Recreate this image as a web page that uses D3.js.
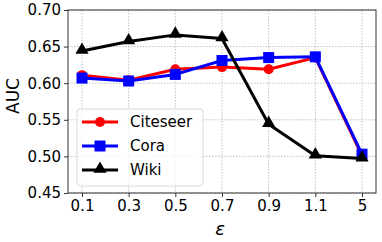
<!DOCTYPE html>
<html>
<head>
<meta charset="utf-8">
<script src="https://cdn.jsdelivr.net/npm/d3@7"></script>
<style>
body { margin: 0; background: #fff; }
text { font-family: "DejaVu Sans", sans-serif; }
</style>
</head>
<body>
<svg id="chart" width="382" height="242"></svg>
<script>
// eps values along the x axis
var eps = ["0.1", "0.3", "0.5", "0.7", "0.9", "1.1", "5"];
var citeseer = [0.611, 0.604, 0.619, 0.622, 0.619, 0.635, 0.501];
var cora = [0.607, 0.603, 0.612, 0.631, 0.635, 0.636, 0.503];
var wiki = [0.644, 0.657, 0.666, 0.661, 0.544, 0.501, 0.497];
var yTicks = [0.45, 0.50, 0.55, 0.60, 0.65, 0.70];

var series = [
    {name: "Citeseer", vals: citeseer, color: "#ff0000", mark: "circle"},
    {name: "Cora", vals: cora, color: "#0000ff", mark: "square"},
    {name: "Wiki", vals: wiki, color: "#000000", mark: "triangle"}
];

var svg = d3.select("#chart");
var L = 68, R = 376, T = 10, B = 193;

var x = d3.scalePoint().domain(eps).range([L, R]).padding(0.3);
var y = d3.scaleLinear().domain([0.45, 0.70]).range([B, T]);

// grid
var grid = svg.append("g");
grid.selectAll(".gx").data(eps).enter().append("line")
    .attr("x1", function(d){ return x(d); }).attr("x2", function(d){ return x(d); })
    .attr("y1", T).attr("y2", B)
    .attr("stroke", "#b0b0b0").attr("stroke-width", 0.8).attr("stroke-dasharray", "1.5,1.5");
grid.selectAll(".gy").data(yTicks).enter().append("line")
    .attr("x1", L).attr("x2", R)
    .attr("y1", function(d){ return y(d); }).attr("y2", function(d){ return y(d); })
    .attr("stroke", "#b0b0b0").attr("stroke-width", 0.8).attr("stroke-dasharray", "1.5,1.5");

// axes
var xAxis = svg.append("g").attr("transform", "translate(0," + B + ")")
    .call(d3.axisBottom(x).tickSize(4).tickPadding(3));
var yAxis = svg.append("g").attr("transform", "translate(" + L + ",0)")
    .call(d3.axisLeft(y).tickValues(yTicks).tickFormat(d3.format(".2f")).tickSize(4).tickPadding(3));
[xAxis, yAxis].forEach(function(a){
    a.select(".domain").remove();
    a.selectAll("line").attr("stroke", "#333");
    a.selectAll("text").attr("font-size", 15).attr("fill", "#000")
        .style("font-family", "DejaVu Sans, sans-serif");
});
xAxis.selectAll("text").attr("dy", "0.75em");

// frame
svg.append("rect").attr("x", L).attr("y", T).attr("width", R - L).attr("height", B - T)
    .attr("fill", "none").attr("stroke", "#333").attr("stroke-width", 1);

var line = d3.line()
    .x(function(d, i){ return x(eps[i]); })
    .y(function(d){ return y(d); });

function marker(g, kind, color, cx, cy) {
    if (kind == "circle") {
        g.append("circle").attr("cx", cx).attr("cy", cy).attr("r", 5).attr("fill", color);
    } else if (kind == "square") {
        g.append("rect").attr("x", cx - 5.5).attr("y", cy - 5.5).attr("width", 11).attr("height", 11).attr("fill", color);
    } else {
        g.append("path").attr("d", d3.symbol().type(d3.symbolTriangle).size(75)())
            .attr("transform", "translate(" + cx + "," + (cy - 1) + ")").attr("fill", color);
    }
}

series.forEach(function(s){
    var g = svg.append("g");
    g.append("path").datum(s.vals).attr("d", line)
        .attr("fill", "none").attr("stroke", s.color).attr("stroke-width", 3)
        .attr("stroke-linejoin", "round");
    s.vals.forEach(function(v, i){ marker(g, s.mark, s.color, x(eps[i]), y(v)); });
});

// legend
var leg = svg.append("g");
leg.append("rect").attr("x", 77).attr("y", 109).attr("width", 126).attr("height", 77)
    .attr("rx", 3).attr("fill", "#fff").attr("fill-opacity", 0.8)
    .attr("stroke", "#d9d9d9").attr("stroke-width", 1);
series.forEach(function(s, i){
    var ly = 122 + i * 24;
    leg.append("line").attr("x1", 82).attr("x2", 118).attr("y1", ly).attr("y2", ly)
        .attr("stroke", s.color).attr("stroke-width", 3);
    marker(leg, s.mark, s.color, 100, ly);
    leg.append("text").attr("x", 130).attr("y", ly).attr("dy", "0.35em")
        .attr("font-size", 15).text(s.name);
});

// labels
svg.append("text").attr("transform", "translate(19,96) rotate(-90)")
    .attr("text-anchor", "middle").attr("font-size", 17).text("AUC");
svg.append("text").attr("x", 220).attr("y", 235)
    .attr("text-anchor", "middle").attr("font-size", 18).attr("font-style", "italic").text("ε");
</script>
</body>
</html>
